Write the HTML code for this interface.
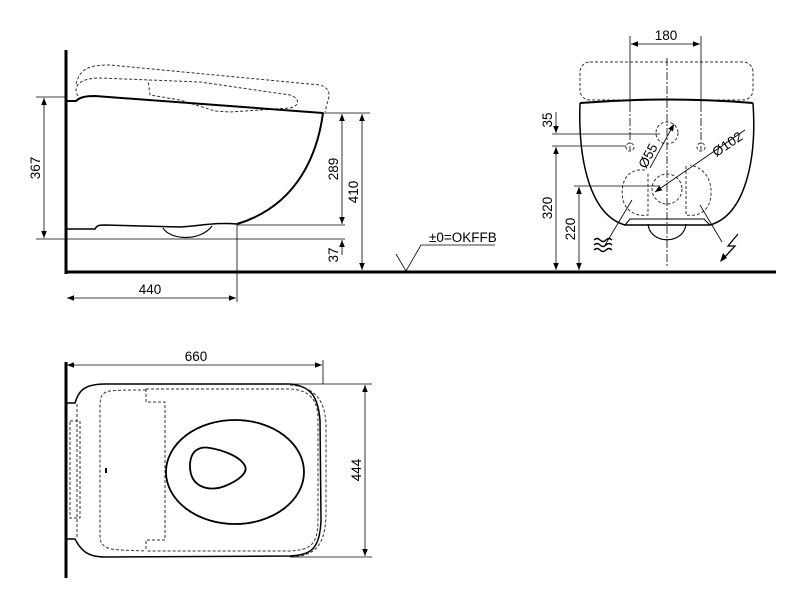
<!DOCTYPE html>
<html><head><meta charset="utf-8"><style>
html,body{margin:0;padding:0;background:#fff;}
svg{display:block;}
text{font-family:"Liberation Sans",Arial,sans-serif;font-size:13.5px;fill:#000;}
</style></head><body>
<svg width="800" height="600" viewBox="0 0 800 600" xmlns="http://www.w3.org/2000/svg">
<defs>
<marker id="a" viewBox="0 0 10 10" refX="10" refY="5" markerWidth="9" markerHeight="7" orient="auto-start-reverse" markerUnits="userSpaceOnUse"><path d="M0,1 L10,5 L0,9 Z" fill="#000"/></marker>
</defs>
<g fill="none" stroke="#000">
<!-- ===== SIDE VIEW ===== -->
<line x1="66" y1="50" x2="66" y2="274" stroke-width="3"/>
<line x1="65" y1="272" x2="776" y2="272" stroke-width="3"/>
<!-- dashed seat -->
<path d="M76,84 C80,68 90,65 110,65 L320,85 C330,88 330,95 328,100 L325,112 M78,96 C72,86 80,78 100,78 L200,82 L290,95 C300,98 300,106 290,108 L230,112 L215,111 L180,100 L150,95 L148,80" stroke-width="1" stroke-dasharray="3,2" stroke="#333"/>
<!-- bowl -->
<path d="M66,101 L76,101 C80,97 86,96 95,96 L323,113" stroke-width="2"/>
<path d="M323,113 C318,150 300,205 237,224" stroke-width="2"/>
<path d="M66,229 L95,229 C97,225 100,225 105,225 L180,227 C200,226 215,222 237,224" stroke-width="1.5"/>
<path d="M163,228 C170,240 200,242 212,226" stroke-width="1.2"/>
<!-- dims side -->
<g stroke-width="0.8">
<line x1="36" y1="97" x2="66" y2="97"/>
<line x1="36" y1="239" x2="345" y2="239"/>
<line x1="44" y1="98" x2="44" y2="238" marker-start="url(#a)" marker-end="url(#a)"/>
<line x1="323" y1="113" x2="370" y2="113"/>
<line x1="237" y1="225" x2="345" y2="225"/>
<line x1="342" y1="114" x2="342" y2="224" marker-start="url(#a)" marker-end="url(#a)"/>
<line x1="362" y1="114" x2="362" y2="270" marker-start="url(#a)" marker-end="url(#a)"/>
<line x1="342" y1="255" x2="342" y2="240" marker-end="url(#a)"/>
<line x1="237" y1="225" x2="237" y2="302"/>
<line x1="67" y1="298" x2="236" y2="298" marker-start="url(#a)" marker-end="url(#a)"/>
<polyline points="396,254 406,271 421,245 495,245"/>
</g>
<!-- ===== FRONT VIEW ===== -->
<rect x="580" y="62" width="173" height="38" rx="10" stroke-width="1" stroke-dasharray="3,2" stroke="#333"/>
<path d="M580,103 Q667,96 753,103" stroke-width="2"/>
<path d="M580,103 C578,160 590,215 625,225 L710,225 C745,215 757,160 753,103" stroke-width="1.5"/>
<path d="M625,225 L630,219 L704,219 L710,225" stroke-width="1"/>
<path d="M648,224 C650,245 684,245 686,224" stroke-width="1.2"/>
<line x1="667" y1="58" x2="667" y2="266" stroke-width="0.8" stroke-dasharray="8,2,2,2"/>
<line x1="630" y1="36" x2="630" y2="104" stroke-width="0.8"/>
<line x1="701" y1="36" x2="701" y2="104" stroke-width="0.8"/>
<line x1="630" y1="104" x2="630" y2="150" stroke-width="0.8" stroke-dasharray="8,2,2,2"/>
<line x1="701" y1="104" x2="701" y2="150" stroke-width="0.8" stroke-dasharray="8,2,2,2"/>
<line x1="631" y1="44" x2="700" y2="44" stroke-width="0.8" marker-start="url(#a)" marker-end="url(#a)"/>
<g stroke-width="1" stroke-dasharray="3,2" stroke="#333">
<circle cx="667" cy="133" r="11"/>
<circle cx="667" cy="189" r="15"/>
<circle cx="630" cy="147" r="4"/>
<circle cx="701" cy="147" r="4"/>
<path d="M645,170 C625,168 620,185 623,200 C626,212 638,217 648,215 L648,172"/>
<path d="M686,166 L686,215 C700,217 710,210 711,195 C712,180 705,168 690,165"/>
</g>
<g stroke-width="0.8">
<line x1="552" y1="134" x2="660" y2="134"/>
<line x1="552" y1="146" x2="626" y2="146"/>
<line x1="556" y1="112" x2="556" y2="133" marker-end="url(#a)"/>
<line x1="556" y1="147" x2="556" y2="270" marker-start="url(#a)" marker-end="url(#a)"/>
<line x1="574" y1="186" x2="660" y2="186"/>
<line x1="579" y1="187" x2="579" y2="270" marker-start="url(#a)" marker-end="url(#a)"/>
<line x1="650" y1="168" x2="674" y2="124" marker-end="url(#a)"/>
<line x1="745" y1="130" x2="655" y2="192" marker-end="url(#a)"/>
<line x1="632" y1="200" x2="605" y2="245"/>
<line x1="700" y1="205" x2="722" y2="242"/>
</g>
<g stroke-width="1.3">
<path d="M594,240 q3,-3 6,0 t6,0 t6,0"/>
<path d="M594,245 q3,-3 6,0 t6,0 t6,0"/>
<path d="M594,250 q3,-3 6,0 t6,0 t6,0"/>
<polyline points="738,234 728,246 735,246 723,259"/>
</g>
<path d="M720,262 L723,253 L727,258 Z" fill="#000" stroke="none"/>
<!-- ===== TOP VIEW ===== -->
<line x1="66" y1="362" x2="66" y2="578" stroke-width="3"/>
<path d="M66,403 L75,403 C78,393 82,384 105,384 L290,384 C312,386 318,398 320,420 L321,520 C320,548 312,555 290,556 L105,557 C85,557 80,548 75,539 L66,539" stroke-width="1.5"/>
<g stroke-width="1" stroke-dasharray="3,2" stroke="#333">
<path d="M77,404 L77,538"/>
<rect x="70" y="421" width="10" height="97"/>
<path d="M146,389 L146,402 L165,402 L165,540 L146,540 L146,551"/>
<path d="M146,390 C128,390 110,390 106,392 C100,395 100,400 100,410 L100,535 C100,545 104,549 120,550 L146,551"/>
<path d="M146,389 L290,389 C310,390 318,400 318,420 L318,520 C318,545 310,550 290,551 L146,551"/>
<path d="M290,385 C315,387 325,400 326,425 L326,515 C325,545 316,556 290,557"/>
</g>
<ellipse cx="235" cy="472" rx="69" ry="52" stroke-width="1.8"/>
<path d="M190,466 C190,450 200,446 210,448 C222,450 240,456 245,466 C248,472 240,480 225,486 C210,492 190,488 190,466 Z" stroke-width="1.8"/>
<rect x="105" y="468" width="2" height="5" fill="#000" stroke="none"/>
<g stroke-width="0.8">
<line x1="67" y1="365" x2="322" y2="365" marker-start="url(#a)" marker-end="url(#a)"/>
<line x1="323" y1="360" x2="323" y2="384"/>
<line x1="290" y1="384" x2="372" y2="384"/>
<line x1="290" y1="557" x2="372" y2="557"/>
<line x1="365" y1="385" x2="365" y2="556" marker-start="url(#a)" marker-end="url(#a)"/>
</g>
</g>
<!-- texts -->
<text x="40" y="168" text-anchor="middle" transform="rotate(-90 40 168)">367</text>
<text x="338" y="169" text-anchor="middle" transform="rotate(-90 338 169)">289</text>
<text x="358" y="192" text-anchor="middle" transform="rotate(-90 358 192)">410</text>
<text x="338" y="255" text-anchor="middle" transform="rotate(-90 338 255)">37</text>
<text x="150" y="294" text-anchor="middle">440</text>
<text x="429" y="242">±0=OKFFB</text>
<text x="666" y="40" text-anchor="middle">180</text>
<text x="552" y="120" text-anchor="middle" transform="rotate(-90 552 120)">35</text>
<text x="552" y="208" text-anchor="middle" transform="rotate(-90 552 208)">320</text>
<text x="575" y="229" text-anchor="middle" transform="rotate(-90 575 229)">220</text>
<text x="652" y="158" text-anchor="middle" transform="rotate(-62 652 158)">Ø55</text>
<text x="730" y="148" text-anchor="middle" transform="rotate(-34 730 148)">Ø102</text>
<text x="196" y="361" text-anchor="middle">660</text>
<text x="361" y="470" text-anchor="middle" transform="rotate(-90 361 470)">444</text>
</svg>
</body></html>
